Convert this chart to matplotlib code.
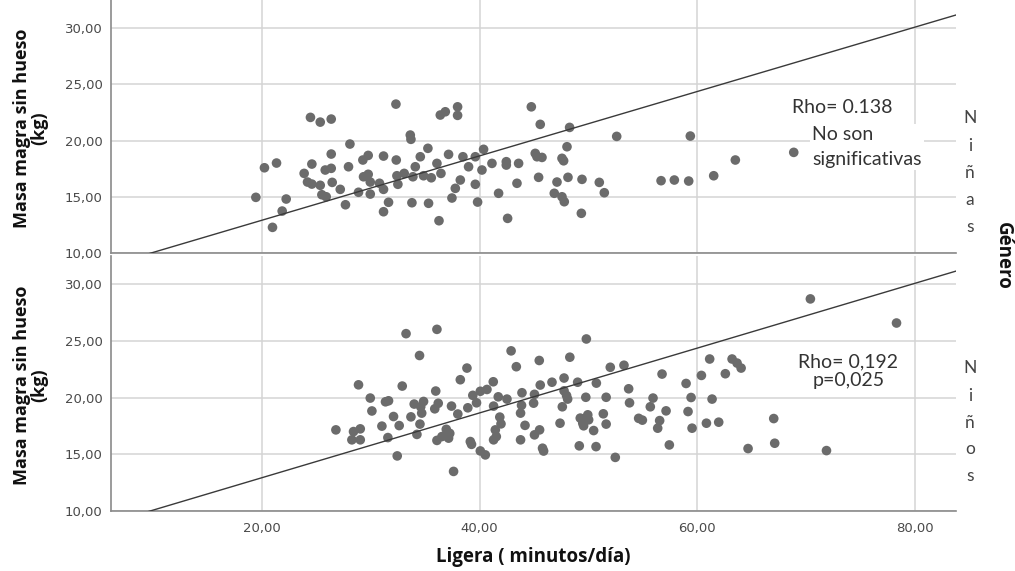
import matplotlib
matplotlib.use("Agg")
import matplotlib.pyplot as plt
import numpy as np

# ---------------- data ----------------
girls_points = [
    (19.42, 14.95), (20.21, 17.58), (21.32, 18.00), (20.95, 12.28), (21.84, 13.73),
    (22.21, 14.80), (24.44, 22.06), (25.34, 21.64), (26.35, 21.91), (23.86, 17.08),
    (24.57, 17.91), (24.17, 16.31), (24.57, 16.13), (25.34, 16.02), (25.49, 15.18),
    (25.89, 15.00), (25.80, 17.38), (26.35, 17.53), (26.35, 18.80), (26.44, 16.28),
    (27.18, 15.66), (27.66, 14.29), (27.94, 17.67), (28.07, 19.69), (28.86, 15.40),
    (29.26, 18.27), (29.75, 18.68), (29.32, 16.78), (29.75, 17.00), (29.94, 16.31),
    (29.94, 15.24), (30.79, 16.20), (31.16, 13.67), (31.16, 18.62), (31.16, 15.66),
    (31.62, 14.51), (32.30, 23.24), (32.33, 18.27), (32.39, 16.87), (32.48, 16.11),
    (33.06, 17.08), (33.62, 20.49), (33.68, 20.11), (33.77, 14.47), (33.86, 16.78),
    (34.08, 17.67), (34.54, 18.56), (35.24, 19.31), (34.84, 16.87), (35.30, 14.42),
    (35.55, 16.69), (36.26, 12.87), (36.38, 22.27), (36.84, 22.56), (37.97, 23.00),
    (37.97, 22.24), (36.07, 17.97), (37.14, 18.77), (36.44, 17.08), (37.45, 14.89),
    (37.76, 15.75), (38.22, 16.49), (38.46, 18.56), (38.98, 17.67), (39.60, 16.11),
    (39.81, 14.53), (40.36, 19.22), (40.21, 17.38), (41.13, 17.97), (41.74, 15.31),
    (39.60, 18.56), (42.45, 18.12), (42.45, 17.82), (43.58, 17.97), (45.11, 18.86),
    (45.73, 18.50), (47.57, 18.42), (47.72, 18.20), (48.03, 19.45), (44.75, 23.00),
    (45.57, 21.44), (48.27, 21.17), (52.60, 20.37), (59.37, 20.40), (68.88, 18.95),
    (63.51, 18.27), (61.52, 16.87), (56.68, 16.43), (57.90, 16.49), (59.22, 16.40),
    (51.00, 16.28), (51.46, 15.36), (49.35, 13.53), (42.57, 13.08), (43.43, 16.20),
    (45.42, 16.73), (47.11, 16.31), (48.12, 16.73), (49.41, 16.55), (46.86, 15.31),
    (47.57, 15.00), (47.78, 14.56), (45.27, 18.56),
]

boys_points = [
    (26.78, 17.14), (28.86, 21.12), (29.94, 19.95), (30.09, 18.81), (28.40, 16.99),
    (29.02, 17.23), (28.25, 16.26), (29.02, 16.26), (31.01, 17.47), (31.34, 19.62),
    (31.62, 19.71), (31.56, 16.46), (32.08, 18.32), (32.42, 14.84), (32.60, 17.52),
    (32.88, 21.01), (33.23, 25.64), (33.68, 18.29), (33.98, 19.42), (34.23, 16.74),
    (34.47, 23.71), (34.58, 19.18), (34.84, 19.65), (34.67, 18.62), (34.51, 17.65),
    (36.07, 26.02), (35.96, 20.57), (35.87, 19.00), (36.19, 19.49), (36.07, 16.21),
    (36.53, 16.55), (36.93, 17.19), (37.25, 16.83), (37.14, 16.41), (37.60, 13.47),
    (37.41, 19.24), (38.22, 21.57), (37.99, 18.54), (38.83, 22.60), (38.91, 19.09),
    (39.14, 16.11), (39.25, 15.86), (39.37, 20.19), (39.71, 19.53), (40.06, 15.28),
    (40.52, 14.93), (40.06, 20.55), (40.67, 20.71), (41.25, 21.39), (41.28, 19.24),
    (41.28, 16.26), (41.71, 20.06), (42.51, 19.86), (41.85, 18.27), (41.96, 17.67),
    (41.44, 17.14), (41.53, 16.55), (42.89, 24.12), (43.37, 22.72), (45.48, 23.27),
    (48.29, 23.56), (49.81, 25.17), (52.01, 22.67), (53.27, 22.85), (43.89, 20.42),
    (43.85, 19.31), (43.76, 18.62), (45.04, 20.28), (44.96, 19.50), (45.57, 21.10),
    (46.65, 21.35), (47.76, 21.72), (47.76, 20.59), (47.99, 20.17), (48.09, 19.86),
    (47.60, 19.18), (49.01, 21.35), (50.73, 21.27), (49.76, 20.02), (51.63, 20.02),
    (53.70, 20.77), (53.78, 19.53), (55.69, 19.18), (44.17, 17.54), (45.04, 16.70),
    (45.51, 17.14), (43.76, 16.26), (47.39, 17.73), (49.25, 18.18), (49.48, 17.73),
    (49.94, 18.47), (50.02, 18.03), (49.56, 17.50), (50.48, 17.08), (51.37, 18.56),
    (51.63, 17.65), (54.62, 18.16), (54.96, 18.00), (45.78, 15.52), (45.88, 15.27),
    (49.16, 15.73), (50.70, 15.66), (52.47, 14.71), (70.41, 28.71), (78.33, 26.58),
    (61.15, 23.40), (63.21, 23.40), (63.67, 23.04), (64.04, 22.60), (62.59, 22.10),
    (60.39, 21.95), (58.98, 21.24), (59.44, 20.00), (61.37, 19.86), (59.16, 18.76),
    (59.53, 17.29), (60.85, 17.73), (61.98, 17.82), (67.04, 18.14), (67.13, 15.96),
    (64.68, 15.49), (71.89, 15.31), (56.77, 22.07), (55.94, 19.95), (57.14, 18.82),
    (56.55, 17.96), (56.37, 17.29), (57.44, 15.81),
]

fit_intercept = 7.2
fit_slope = 0.286

x_ticks = [20, 40, 60, 80]
y_ticks = [10, 15, 20, 25, 30]
panel_names = ["Niñas", "Niños"]
annotations = ["Rho= 0.138", "No son\nsignificativas", "Rho= 0,192\np=0,025"]

x_label = "Ligera ( minutos/día)"
y_label = "Masa magra sin hueso\n(kg)"
strip_title = "Género"

# ---------------- figure ----------------
W, H = 1015, 571
fig = plt.figure(figsize=(W / 100, H / 100), dpi=100)

def fx(px):
    return px / W

def fy(py):
    return 1 - py / H

left, right = 111, 956
ax_top = fig.add_axes([fx(left), fy(253), fx(right - left), (253 - 0) / H])
ax_bot = fig.add_axes([fx(left), fy(510.7), fx(right - left), (510.7 - 256) / H])

xlim = (6.1, 83.8)
grid_c = "#d4d4d4"
dot_c = "#6b6b6b"
tick_c = "#4a4a4a"

def fmt(v):
    return f"{v:.2f}".replace(".", ",")

for ax, pts in [(ax_top, girls_points), (ax_bot, boys_points)]:
    xs = np.array([p[0] for p in pts])
    ys = np.array([p[1] for p in pts])
    ax.set_xlim(*xlim)
    ax.set_ylim(10, 32.5)
    ax.set_xticks(x_ticks)
    ax.set_yticks(y_ticks)
    ax.set_yticklabels([fmt(v) for v in y_ticks], fontsize=9.5, color=tick_c,
                       family="DejaVu Sans")
    ax.grid(True, color=grid_c, linewidth=1.1)
    ax.set_axisbelow(True)
    for s in ["top", "right"]:
        ax.spines[s].set_visible(False)
    for s in ["left", "bottom"]:
        ax.spines[s].set_color("#8a8a8a")
        ax.spines[s].set_linewidth(1.2)
    ax.tick_params(axis="y", length=0, pad=6)
    ax.tick_params(axis="x", length=0, pad=8)
    ax.scatter(xs, ys, s=48, color=dot_c, edgecolors="none", zorder=3)
    lx = np.array(xlim)
    ax.plot(lx, fit_intercept + fit_slope * lx, color="#3a3a3a", lw=1.0, zorder=4)

ax_top.set_xticklabels([])
ax_bot.set_xticklabels([fmt(v) for v in x_ticks], fontsize=9.5, color=tick_c,
                       family="DejaVu Sans")

# annotations (top)
ax_top.text(68.76, 22.9, annotations[0], fontsize=14, family="Lato", color="#333333",
            ha="left", va="center", zorder=5,
            bbox=dict(facecolor="white", edgecolor="none", pad=1.5))
ax_top.text(70.6, 19.42, annotations[1], fontsize=14, family="Lato", color="#333333",
            ha="left", va="center", linespacing=1.6, zorder=5,
            bbox=dict(facecolor="white", edgecolor="none", pad=1.5))
# annotation (bottom)
ax_bot.text(73.9, 22.3, annotations[2], fontsize=14, family="Lato", color="#333333",
            ha="center", va="center", multialignment="center", linespacing=1.1, zorder=5)

# strip letters
for name, ys_px in [(panel_names[0], [118, 146, 173, 200, 227]),
                    (panel_names[1], [368, 396, 423, 449, 476])]:
    for ch, py in zip(name, ys_px):
        fig.text(fx(970), fy(py), ch, fontsize=12.5,
                 family="Lato", color="#444444", ha="center", va="center")

fig.text(fx(1003), fy(256), strip_title, rotation=-90, fontsize=13.5, weight="bold",
         family="Open Sans", color="#111111", ha="center", va="center")

# axis labels
for cy in [128, 385]:
    fig.text(fx(31), fy(cy), y_label, rotation=90, fontsize=13, weight="bold",
             family="Open Sans", color="#111111", ha="center", va="center",
             multialignment="center", linespacing=0.95)

fig.text(fx(533), fy(557), x_label, fontsize=13.5, weight="bold", family="Open Sans",
         color="#111111", ha="center", va="center")

fig.savefig("out.png", dpi=100)
